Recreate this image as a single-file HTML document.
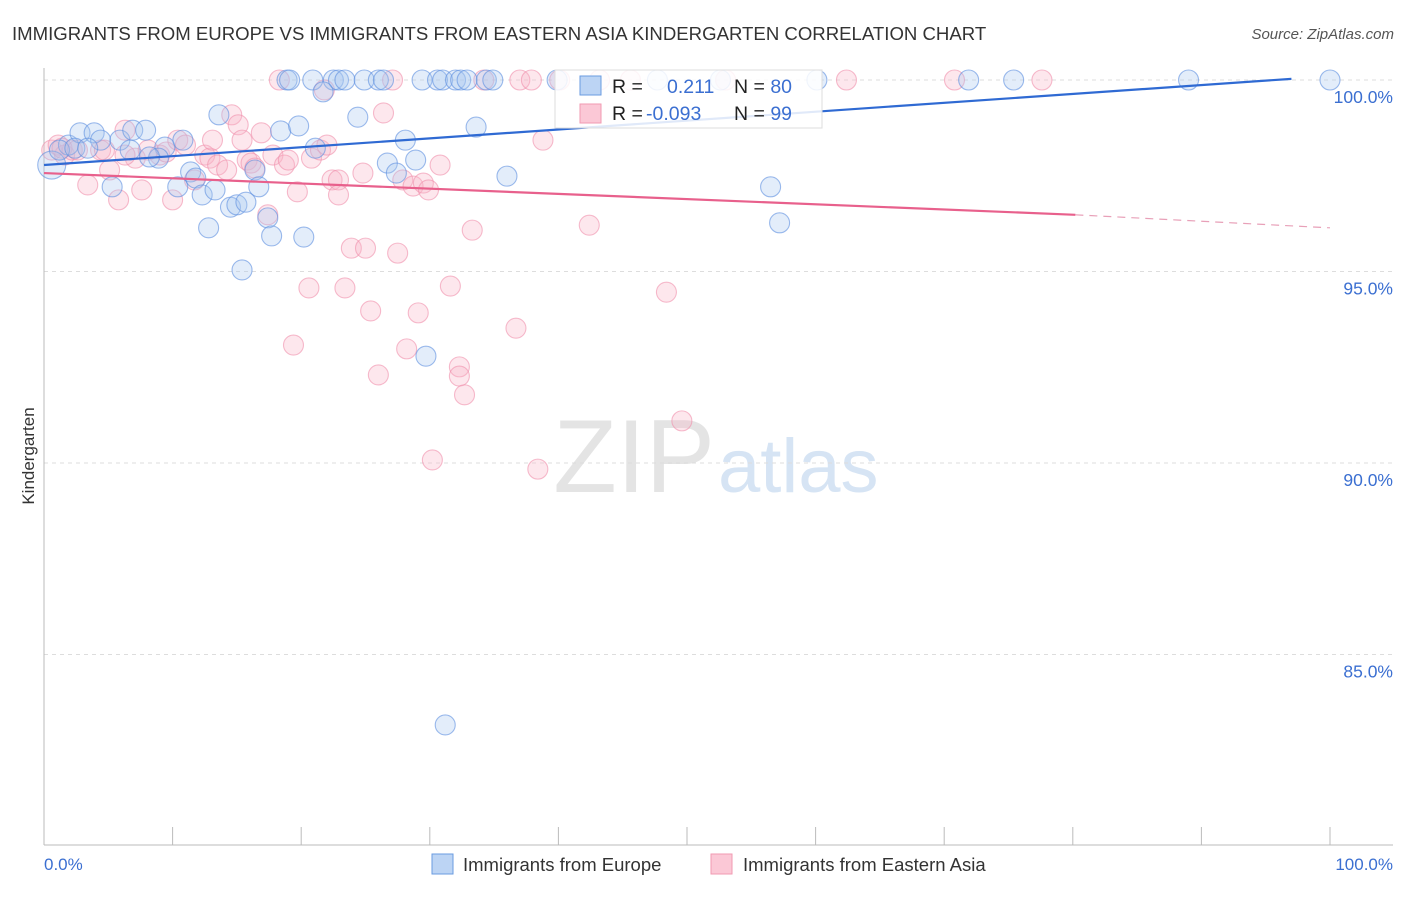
<!DOCTYPE html>
<html><head><meta charset="utf-8"><style>
body{margin:0;background:#fff;font-family:"Liberation Sans",sans-serif}
svg text{font-family:"Liberation Sans",sans-serif}
</style></head><body>
<svg width="1406" height="892" xmlns="http://www.w3.org/2000/svg">
<text x="12" y="40" font-size="18.6" fill="#333">IMMIGRANTS FROM EUROPE VS IMMIGRANTS FROM EASTERN ASIA KINDERGARTEN CORRELATION CHART</text>
<text x="1394" y="39" font-size="15" fill="#555" text-anchor="end" font-style="italic">Source: ZipAtlas.com</text>
<text x="715" y="492" font-size="104" fill="#e4e4e4" text-anchor="end" font-family="Liberation Serif">ZIP</text>
<text x="718" y="492" font-size="76" fill="#d6e4f4">atlas</text>
<g id="grid"></g>
<g id="axes"></g>
<g id="marks"></g>
<g id="legend">
<rect x="555" y="70" width="267" height="58" fill="#fff" fill-opacity="0.85" stroke="#ddd"/>
<rect x="580" y="76" width="21" height="19" fill="#bcd4f4" stroke="#6a9be0"/>
<rect x="580" y="104" width="21" height="19" fill="#fbc8d6" stroke="#f09ab2"/>
<text x="612" y="93" font-size="19.5" fill="#222">R = <tspan x="667" fill="#3b6fd1">0.211</tspan><tspan x="734" fill="#222">N = </tspan><tspan fill="#3b6fd1">80</tspan></text>
<text x="612" y="120" font-size="19.5" fill="#222">R = <tspan x="646" fill="#3b6fd1">-0.093</tspan><tspan x="734" fill="#222">N = </tspan><tspan fill="#3b6fd1">99</tspan></text>
</g>
<text x="34" y="456" font-size="17" fill="#333" text-anchor="middle" transform="rotate(-90 34 456)">Kindergarten</text>
<text x="44" y="870" font-size="17" fill="#3b6fd1">0.0%</text>
<text x="1393" y="870" font-size="17" fill="#3b6fd1" text-anchor="end">100.0%</text>
<g>
<rect x="432" y="854" width="21" height="20" fill="#bcd4f4" stroke="#6a9be0"/>
<text x="463" y="871" font-size="18.5" fill="#333">Immigrants from Europe</text>
<rect x="711" y="854" width="21" height="20" fill="#fbc8d6" stroke="#f09ab2"/>
<text x="743" y="871" font-size="18.5" fill="#333">Immigrants from Eastern Asia</text>
</g>
</svg>
<script>
const yTicks=[100,95,90,85];
const yTickLabels=["100.0%","95.0%","90.0%","85.0%"];
const xTicks=[0,10,20,30,40,50,60,70,80,90,100];
const blueX=[18.9,19.1,20.9,22.5,22.9,23.4,24.9,26.0,26.4,29.4,30.6,31.0,32.0,32.4,32.9,34.4,34.9,39.9,47.7,52.6,60.1,71.9,75.4,89.0,100,
0.6,1.9,2.8,3.9,4.4,5.9,6.9,7.9,5.3,9.4,8.9,10.4,10.8,11.4,11.8,12.3,12.8,13.3,13.6,14.5,15.0,15.4,15.7,16.4,16.7,17.4,17.7,18.4,19.8,20.2,21.1,21.7,24.4,26.7,27.4,28.1,28.9,29.7,31.2,33.6,36.0,56.5,57.2,1.2,2.4,3.4,6.7,8.2];
const blueY=[100,100,100,100,100,100,100,100,100,100,100,100,100,100,100,100,100,100,100,100,100,100,100,100,100,
97.78,98.30,98.62,98.62,98.43,98.43,98.69,98.69,97.21,98.25,97.96,97.21,98.43,97.60,97.44,97.00,96.14,97.13,99.09,96.68,96.74,95.04,96.81,97.65,97.21,96.40,95.93,98.67,98.80,95.90,98.22,99.69,99.03,97.83,97.57,98.43,97.91,92.79,83.16,98.77,97.49,97.21,96.27,98.17,98.22,98.22,98.17,97.99];
const pinkX=[18.3,34.2,37.0,37.9,40.1,43.2,45.6,62.4,70.8,77.6,27.1,53.0,
0.6,1.1,1.6,2.2,3.4,4.4,5.1,5.8,6.3,7.1,7.6,9.0,9.5,10.0,10.4,11.0,11.7,12.5,12.9,13.1,13.5,14.2,14.6,15.1,15.4,15.8,16.1,16.4,16.9,17.4,17.8,18.7,19.0,19.7,20.6,19.4,20.8,21.5,21.8,22.0,22.4,22.9,22.9,23.4,23.9,25.0,24.8,25.4,26.0,26.4,27.5,27.9,28.2,28.7,29.1,29.5,29.9,30.2,30.8,31.6,32.3,32.3,32.7,33.3,36.7,38.4,38.8,42.4,48.4,49.6,1.4,2.6,4.7,6.3,8.1];
const pinkY=[100,100,100,100,100,100,100,100,100,100,100,100,
98.17,98.30,98.04,98.17,97.26,98.17,97.65,96.87,98.69,97.96,97.13,98.04,98.12,96.87,98.43,98.30,97.39,98.04,97.96,98.43,97.78,97.65,99.09,98.83,98.43,97.91,97.83,97.70,98.62,96.48,98.04,97.78,97.91,97.08,94.57,93.08,97.96,98.17,99.74,98.30,97.39,97.39,97.00,94.57,95.61,95.61,97.57,93.97,92.30,99.14,95.48,97.39,92.98,97.23,93.92,97.31,97.13,90.08,97.78,94.62,92.51,92.27,91.78,96.08,93.52,89.84,98.43,96.21,94.46,91.10,98.22,98.17,98.17,98.04,98.17];
const blueTrend=[97.78,100.03];   // at x=0 and x=97
const pinkTrend=[97.57,96.48,96.14]; // at x=0, 80.2 (solid end), 100
const NS='http://www.w3.org/2000/svg';
const xs=v=>44+v*12.86, ys=v=>80+(100-v)*38.3;
function mk(tag,attrs,parent){const e=document.createElementNS(NS,tag);for(const k in attrs)e.setAttribute(k,attrs[k]);document.getElementById(parent).appendChild(e);return e;}
yTicks.forEach((t,i)=>{
 const l=mk('line',{x1:44,x2:1393,y1:ys(t),y2:ys(t),stroke:'#ddd','stroke-dasharray':'4,4'},'grid');
 
 
 const tx=mk('text',{x:1393,y:ys(t)+23,'font-size':17.5,fill:'#3b6fd1','text-anchor':'end'},'grid');
 tx.textContent=yTickLabels[i];
 
 
});
let a=mk('line',{x1:44,x2:44,y1:68,y2:845,stroke:'#bbb'},'axes');


a=mk('line',{x1:44,x2:1393,y1:845,y2:845,stroke:'#bbb'},'axes');


xTicks.forEach(t=>{const l=mk('line',{x1:xs(t),x2:xs(t),y1:827,y2:845,stroke:'#bbb'},'axes');
 
 });
function dots(X,Y,fill,stroke,name){X.forEach((x,i)=>{const big=(i===25&&name==='europe-point');
 const c=mk('circle',{cx:xs(x),cy:ys(Y[i]),r:big?14:10,fill:fill,'fill-opacity':0.32,stroke:stroke,'stroke-opacity':0.6,'stroke-width':1.1},'marks');
 
 });}
dots(pinkX,pinkY,'#f8b4c8','#f090ac','eastasia-point');
dots(blueX,blueY,'#a9c6f0','#5b8ee0','europe-point');
let t=mk('line',{x1:xs(0),y1:ys(blueTrend[0]),x2:xs(97),y2:ys(blueTrend[1]),stroke:'#2f6ad3','stroke-width':2.2},'marks');


t=mk('line',{x1:xs(0),y1:ys(pinkTrend[0]),x2:xs(80.2),y2:ys(pinkTrend[1]),stroke:'#e8608c','stroke-width':2.2},'marks');


t=mk('line',{x1:xs(80.2),y1:ys(pinkTrend[1]),x2:xs(100),y2:ys(pinkTrend[2]),stroke:'#e8a0b8','stroke-width':1.2,'stroke-dasharray':'8,6'},'marks');


</script>
</body></html>
